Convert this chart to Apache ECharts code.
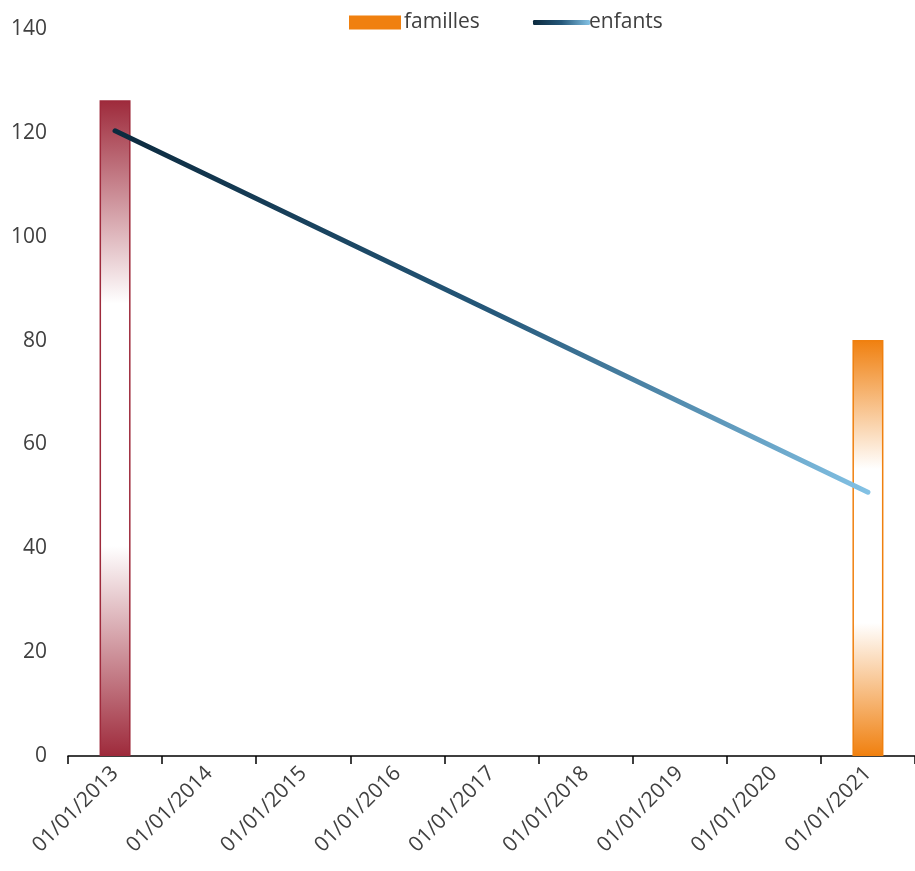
<!DOCTYPE html>
<html>
<head>
<meta charset="utf-8">
<script src="https://cdn.jsdelivr.net/npm/echarts@6/dist/echarts.min.js"></script>
<style>
  html, body { margin: 0; padding: 0; background: #fff; }
  #chart { width: 915px; height: 871px; }
</style>
</head>
<body>
<div id="chart"></div>
<script>
const categories = ['01/01/2013', '01/01/2014', '01/01/2015', '01/01/2016', '01/01/2017',
  '01/01/2018', '01/01/2019', '01/01/2020', '01/01/2021']
const familles = [126.3, null, null, null, null, null, null, null, 80.1]
const enfants = [120.4, null, null, null, null, null, null, null, 50.8]

function barGradient(c) {
  return {
    type: 'linear', x: 0, y: 0, x2: 0, y2: 1,
    colorStops: [
      { offset: 0, color: c },
      { offset: 0.31, color: '#ffffff' },
      { offset: 0.68, color: '#ffffff' },
      { offset: 1, color: c }
    ]
  }
}
const red = '#9e2a3b'
const orange = '#f0800f'
const barColors = [red, null, null, null, null, null, null, null, orange]

const lineGradient = {
  type: 'linear', x: 0, y: 0, x2: 1, y2: 0,
  colorStops: [
    { offset: 0, color: '#0c2a3e' },
    { offset: 0.5, color: '#25587a' },
    { offset: 1, color: '#83c2e5' }
  ]
}

const myChart = echarts.init(document.getElementById('chart'))
const textColor = '#404040'
const font = 'Open Sans'

myChart.setOption({
  animation: false,
  textStyle: { fontFamily: font },
  legend: [
    {
      data: ['familles'],
      left: 344, top: 7,
      itemWidth: 52, itemHeight: 14, itemGap: 4,
      icon: 'rect',
      textStyle: { color: textColor, fontSize: 21, fontFamily: font, padding: [0, 0, 0, -2] }
    },
    {
      data: [{ name: 'enfants', icon: 'roundRect' }],
      left: 528, top: 7,
      itemWidth: 57, itemHeight: 5,
      itemStyle: { color: lineGradient },
      textStyle: { color: textColor, fontSize: 21, fontFamily: font, padding: [0, 0, 0, -6] }
    }
  ],
  grid: { left: 68, right: 0, top: 29, bottom: 115, containLabel: false },
  xAxis: {
    type: 'category',
    data: categories,
    boundaryGap: true,
    axisLine: { lineStyle: { color: '#000', width: 1.5 } },
    axisTick: { show: true, alignWithLabel: false, length: 8, lineStyle: { color: '#000', width: 1.5 } },
    axisLabel: {
      interval: 0, rotate: 45, color: textColor, fontSize: 21, fontFamily: font, margin: 14
    },
    splitLine: { show: false }
  },
  yAxis: {
    type: 'value',
    min: 0, max: 140, interval: 20,
    axisLine: { show: false },
    axisTick: { show: false },
    splitLine: { show: false },
    axisLabel: { color: textColor, fontSize: 21, fontFamily: font, margin: 21 }
  },
  series: [
    {
      name: 'familles',
      type: 'bar',
      barWidth: 31,
      itemStyle: { color: orange },
      data: familles.map((v, i) => ({
        value: v,
        itemStyle: barColors[i] ? { color: barGradient(barColors[i]), borderColor: barColors[i], borderWidth: 1.5 } : undefined
      }))
    },
    {
      name: 'enfants',
      type: 'line',
      data: enfants,
      connectNulls: true,
      symbol: 'none',
      itemStyle: { color: lineGradient },
      lineStyle: { color: lineGradient, width: 5, cap: 'round' }
    }
  ]
})
</script>
</body>
</html>
